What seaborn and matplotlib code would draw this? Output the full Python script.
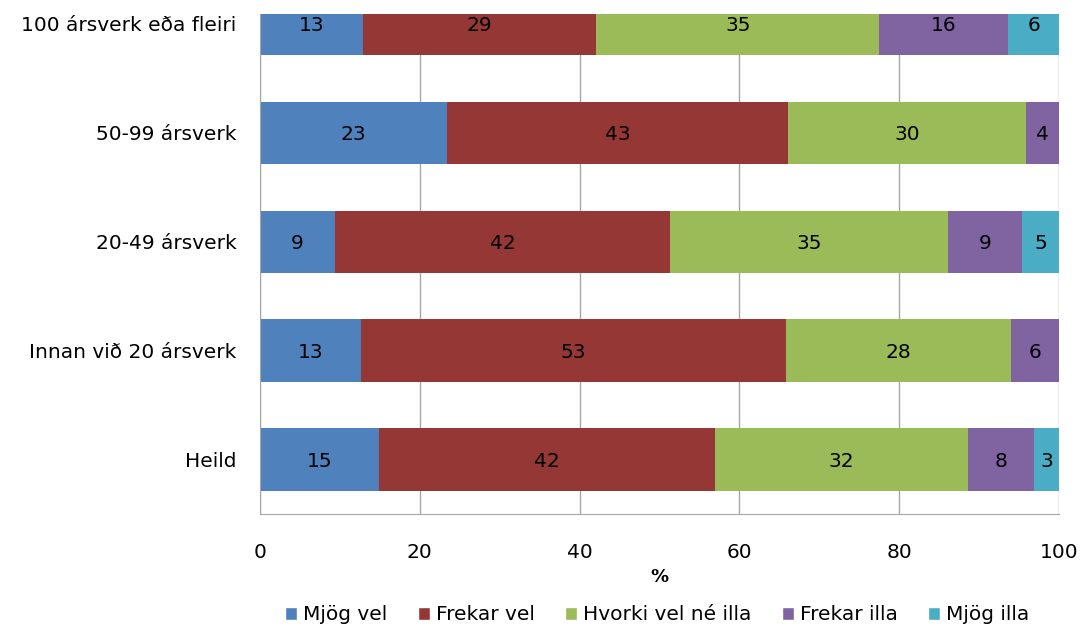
import numpy as np
import pandas as pd
import matplotlib
matplotlib.use('Agg')
import matplotlib.pyplot as plt
from matplotlib.patches import Patch
import seaborn as sns

# --- data (% per group) ---
categories = ['100 ársverk eða fleiri', '50-99 ársverk', '20-49 ársverk',
              'Innan við 20 ársverk', 'Heild']
series = ['Mjög vel', 'Frekar vel', 'Hvorki vel né illa', 'Frekar illa', 'Mjög illa']
mjog_vel = [12.9, 23.4, 9.4, 12.6, 14.9]
frekar_vel = [29.2, 42.7, 41.9, 53.2, 42.0]
hvorki = [35.4, 29.8, 34.8, 28.2, 31.7]
frekar_illa = [16.1, 4.1, 9.3, 6.0, 8.3]
mjog_illa = [6.4, 0.0, 4.6, 0.0, 3.1]
x_ticks = [0, 20, 40, 60, 80, 100]

colors = ['#4F81BD', '#953735', '#9BBB59', '#8064A2', '#4BACC6']

df = pd.DataFrame({'cat': categories, series[0]: mjog_vel, series[1]: frekar_vel,
                   series[2]: hvorki, series[3]: frekar_illa, series[4]: mjog_illa})
cum = df[series].cumsum(axis=1)

sns.set_style('white')
plt.rcParams['font.family'] = ['DejaVu Sans']
plt.rcParams['text.color'] = 'black'
plt.rcParams['xtick.color'] = 'black'
plt.rcParams['ytick.color'] = 'black'
plt.rcParams['axes.labelcolor'] = 'black'

fig = plt.figure(figsize=(10.83, 6.28), dpi=100)
# the original is cut off at the top, so the first bar is only partly visible
ax = fig.add_axes([0.240, 0.1815, 0.738, 0.796])

# stacked bars: draw cumulative totals, widest first
for s, c in reversed(list(zip(series, colors))):
    sns.barplot(x=cum[s], y=df['cat'], orient='h', color=c, saturation=1,
                width=0.57, errorbar=None, ax=ax, linewidth=0)

# segment labels
for i in range(len(categories)):
    left = 0
    for s in series:
        v = df.loc[i, s]
        if v > 0:
            ax.text(left + v / 2, i + 0.02, f'{int(round(v))}', ha='center', va='center',
                    fontsize=14.5, color='black')
        left += v

ax.set_xlim(0, 100)
ax.set_ylim(4.5, -0.087)
ax.set_xticks(x_ticks)
ax.set_axisbelow(True)
ax.grid(axis='x', color='#A6A6A6', linewidth=1)
for side in ['top', 'right']:
    ax.spines[side].set_visible(False)
for side in ['left', 'bottom']:
    ax.spines[side].set_color('#A6A6A6')
ax.tick_params(axis='x', length=0, pad=21, labelsize=14.5)
ax.tick_params(axis='y', length=0, pad=17, labelsize=14.5)
ax.set_ylabel('')
ax.set_xlabel('%', fontsize=13, fontweight='bold', labelpad=4)

handles = [Patch(facecolor=c, label=s) for s, c in zip(series, colors)]
fig.legend(handles=handles, loc='center', bbox_to_anchor=(0.607, 0.021), ncol=5,
           frameon=False, fontsize=14.5, handlelength=0.6, handleheight=0.6,
           handletextpad=0.3, columnspacing=1.5)

fig.savefig('out.png', dpi=100)
